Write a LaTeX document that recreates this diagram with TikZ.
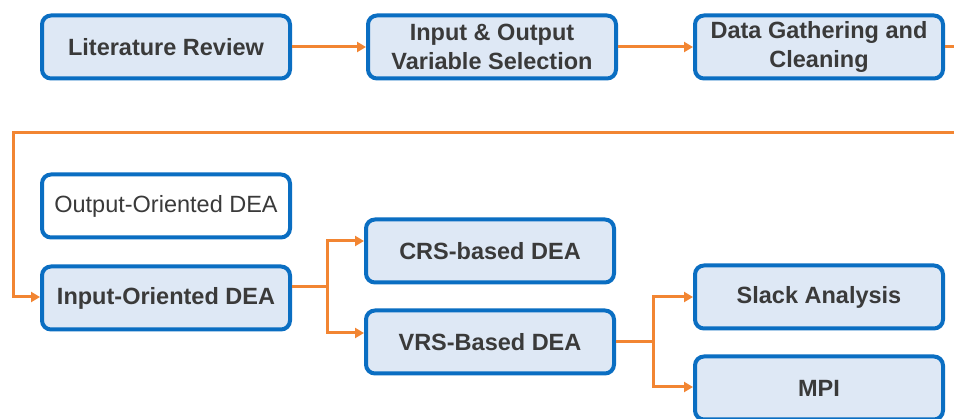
\documentclass[tikz,border=0pt]{standalone}
\usepackage{fontspec}
\setmainfont{Liberation Sans}
\usetikzlibrary{arrows.meta,calc}
\definecolor{boxblue}{HTML}{0A6EC2}
\definecolor{boxfill}{HTML}{DEE8F5}
\definecolor{linkorange}{HTML}{F28532}
\definecolor{txt}{HTML}{3A3A3A}
\begin{document}
\begin{tikzpicture}[x=1pt,y=-1pt,
  stepbox/.style={draw=boxblue, line width=4pt, fill=boxfill, rounded corners=9pt,
    minimum width=248pt, minimum height=63pt, align=center, text=txt,
    font=\fontsize{23.5}{29.5}\selectfont\bfseries, inner sep=0pt},
  plainbox/.style={stepbox, fill=white, font=\fontsize{23.5}{29.5}\selectfont},
  link/.style={draw=linkorange, line width=3pt},
  arr/.style={link, -{Triangle[length=9pt,width=10pt]}}]
\clip (0,0) rectangle (954,419);
\fill[white] (0,0) rectangle (954,419);

\node[stepbox] (lit) at (166,47) {Literature Review};
\node[stepbox] (ios) at (492,47) {Input \& Output\\Variable Selection};
\node[stepbox] (dgc) at (819,47) {Data Gathering and\\Cleaning};
\node[plainbox] (out) at (166,206) {Output-Oriented DEA};
\node[stepbox] (inp) at (166,298) {Input-Oriented DEA};
\node[stepbox] (crs) at (490,251) {CRS-based DEA};
\node[stepbox] (vrs) at (490,342) {VRS-Based DEA};
\node[stepbox] (slack) at (819,297) {Slack Analysis};
\node[stepbox] (mpi) at (819,388) {MPI};

\coordinate (r1) at (960,47);
\coordinate (r2) at (960,133);
\coordinate (l2) at (13,133);
\coordinate (s1) at (327,287);
\coordinate (s2) at (653,342);

\draw[arr] (lit.east) -- (ios.west);
\draw[arr] (ios.east) -- (dgc.west);
\draw[link] (dgc.east) -- (r1);
\draw[arr] (r2) -- (l2) |- ($(inp.west)+(0,-1)$);
\draw[link] (inp.east |- s1) -- (s1);
\draw[arr] (s1) |- ($(crs.west)+(0,-10)$);
\draw[arr] (s1) |- ($(vrs.west)+(0,-9)$);
\draw[link] (vrs.east |- s2) -- (s2);
\draw[arr] (s2) |- (slack.west);
\draw[arr] (s2) |- ($(mpi.west)+(0,-1)$);
\end{tikzpicture}
\end{document}
